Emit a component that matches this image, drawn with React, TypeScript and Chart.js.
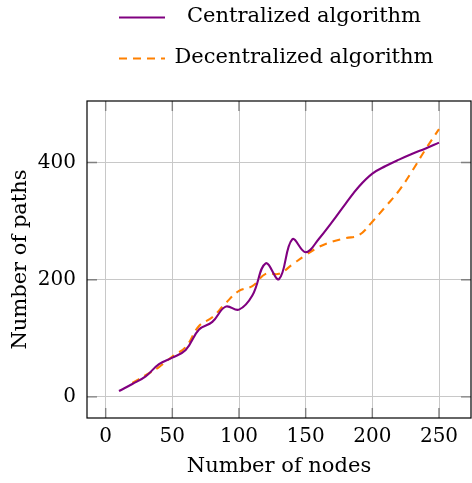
import React, { useEffect, useRef } from "react";
import { Chart, registerables } from "chart.js";

Chart.register(...registerables);

const nodesCentral = [10, 20, 30, 40, 50, 60, 70, 80, 90, 100, 110, 120, 130, 140, 150, 160, 170, 180, 190, 200, 210, 220, 230, 240, 250];
const centralized = [10, 22, 35, 56, 67, 80, 115, 128, 154, 149, 173, 228, 201, 269, 247, 270, 299, 330, 359, 381, 394, 405, 415, 424, 434];
const nodesDecentral = [20, 30, 40, 50, 60, 70, 80, 90, 100, 110, 120, 130, 140, 150, 160, 170, 180, 190, 200, 210, 220, 230, 240, 250];
const decentralized = [24, 37, 51, 69, 85, 121, 136, 160, 181, 189, 210, 210, 226, 242, 256, 265, 271, 276, 299, 325, 352, 386, 423, 457];
const xTicks = [0, 50, 100, 150, 200, 250];
const yTicks = [0, 200, 400];
const seriesNames = ["Centralized algorithm", "Decentralized algorithm"];
const xTitle = "Number of nodes";
const yTitle = "Number of paths";

const PURPLE = "rgb(128,0,128)";
const ORANGE = "rgb(255,128,0)";
const SERIF = "'DejaVu Serif', serif";
const DASH = [8, 6];

const frameAndLegend = {
  id: "frameAndLegend",
  afterDatasetsDraw(chart: any) {
    const { ctx, chartArea, scales } = chart;
    const { left, right, top, bottom } = chartArea;
    ctx.save();
    ctx.strokeStyle = "rgb(128,128,128)";
    ctx.lineWidth = 1.4;
    const tl = 10;
    xTicks.forEach((v) => {
      const x = scales.x.getPixelForValue(v);
      ctx.beginPath();
      ctx.moveTo(x, bottom);
      ctx.lineTo(x, bottom - tl);
      ctx.moveTo(x, top);
      ctx.lineTo(x, top + tl);
      ctx.stroke();
    });
    yTicks.forEach((v) => {
      const y = scales.y.getPixelForValue(v);
      ctx.beginPath();
      ctx.moveTo(left, y);
      ctx.lineTo(left + tl, y);
      ctx.moveTo(right, y);
      ctx.lineTo(right - tl, y);
      ctx.stroke();
    });
    ctx.strokeStyle = "#000";
    ctx.lineWidth = 1.2;
    ctx.strokeRect(left, top, right - left, bottom - top);
    ctx.restore();
  },
  afterDraw(chart: any) {
    const { ctx } = chart;
    ctx.save();
    ctx.font = "21px " + SERIF;
    ctx.fillStyle = "#000";
    ctx.textAlign = "center";
    ctx.textBaseline = "middle";
    const rows = [17, 58];
    const colors = [PURPLE, ORANGE];
    const dashes = [[], DASH];
    rows.forEach((y, i) => {
      ctx.beginPath();
      ctx.strokeStyle = colors[i];
      ctx.lineWidth = 2;
      ctx.setLineDash(dashes[i]);
      ctx.moveTo(119, y + 0.5);
      ctx.lineTo(165, y + 0.5);
      ctx.stroke();
      ctx.setLineDash([]);
      ctx.fillText(seriesNames[i], 304, y);
    });
    ctx.restore();
  },
};

export default function App() {
  const ref = useRef<HTMLCanvasElement>(null);
  useEffect(() => {
    if (!ref.current) return;
    const chart = new Chart(ref.current, {
      type: "scatter",
      data: {
        datasets: [
          {
            label: seriesNames[0],
            data: nodesCentral.map((x, i) => ({ x, y: centralized[i] })),
            showLine: true,
            borderColor: PURPLE,
            backgroundColor: PURPLE,
            borderWidth: 2.1,
            pointRadius: 0,
            tension: 0.4,
          },
          {
            label: seriesNames[1],
            data: nodesDecentral.map((x, i) => ({ x, y: decentralized[i] })),
            showLine: true,
            borderColor: ORANGE,
            backgroundColor: ORANGE,
            borderWidth: 2.1,
            borderDash: DASH,
            pointRadius: 0,
            tension: 0.4,
          },
        ],
      },
      options: {
        animation: false,
        responsive: false,
        devicePixelRatio: 1,
        layout: { padding: { top: 101, right: 1, left: 0, bottom: 0 } },
        plugins: { legend: { display: false }, tooltip: { enabled: false } },
        scales: {
          x: {
            type: "linear",
            min: -14,
            max: 274,
            afterFit: (s: any) => { s.height = 65; },
            afterBuildTicks: (s: any) => { s.ticks = xTicks.map((v) => ({ value: v })); },
            ticks: { font: { family: SERIF, size: 20 }, color: "#000", padding: 7, includeBounds: false },
            grid: { color: "rgb(200,200,200)", lineWidth: 1, drawTicks: false },
            border: { display: false },
            title: { display: true, text: xTitle, font: { family: SERIF, size: 21 }, color: "#000", padding: { top: 0, bottom: 4 } },
          },
          y: {
            type: "linear",
            min: -36,
            max: 505,
            afterFit: (s: any) => { s.width = 87; },
            afterBuildTicks: (s: any) => { s.ticks = yTicks.map((v) => ({ value: v })); },
            ticks: { font: { family: SERIF, size: 20 }, color: "#000", padding: 11, includeBounds: false },
            grid: { color: "rgb(200,200,200)", lineWidth: 1, drawTicks: false },
            border: { display: false },
            title: { display: true, text: yTitle, font: { family: SERIF, size: 21 }, color: "#000", padding: { top: 8, bottom: 0 } },
          },
        },
      },
      plugins: [frameAndLegend],
    });
    return () => chart.destroy();
  }, []);
  return (
    <div style={{ position: "absolute", left: 0, top: 0, width: 472, height: 483, background: "#fff" }}>
      <canvas ref={ref} width={472} height={483} style={{ display: "block", width: 472, height: 483 }} />
    </div>
  );
}
